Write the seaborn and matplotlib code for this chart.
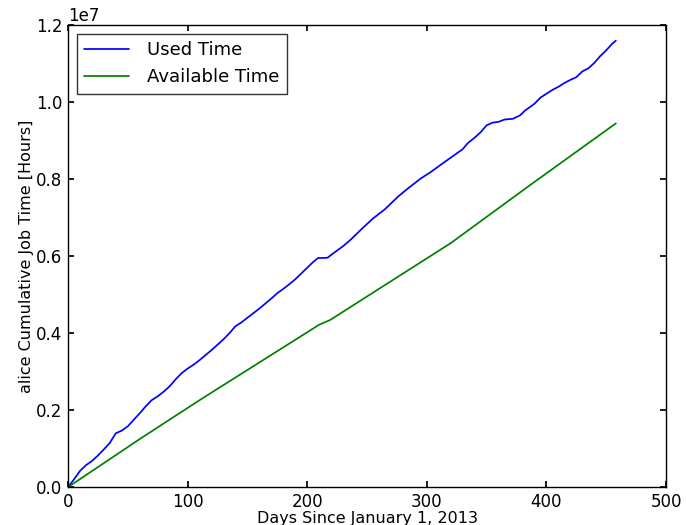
import pandas as pd
import matplotlib
matplotlib.use('Agg')
import matplotlib.pyplot as plt
import seaborn as sns

# cumulative used job time (hours)
used_days = [0, 5, 10, 15, 20, 25, 30, 35, 40, 45, 50, 55, 60, 65, 70, 75, 80, 85, 90, 95,
             100, 105, 110, 115, 120, 125, 130, 135, 140, 145, 150, 155, 160, 165, 170, 175,
             180, 185, 190, 195, 200, 205, 209, 217, 222, 230, 236, 247, 255, 265, 276, 285,
             295, 303, 315, 325, 330, 334, 340, 345, 350, 355, 360, 365, 372, 378, 382, 386,
             390, 395, 400, 405, 410, 415, 420, 425, 430, 435, 440, 445, 450, 455, 458]
used_hours = [0, 0.2, 0.42, 0.57, 0.68, 0.82, 0.98, 1.15, 1.40, 1.47, 1.58, 1.75, 1.92, 2.10,
              2.26, 2.36, 2.48, 2.62, 2.80, 2.96, 3.08, 3.18, 3.30, 3.43, 3.56, 3.70, 3.84,
              4.00, 4.18, 4.28, 4.40, 4.52, 4.64, 4.77, 4.90, 5.04, 5.15, 5.27, 5.40, 5.55,
              5.70, 5.85, 5.95, 5.96, 6.08, 6.26, 6.42, 6.75, 6.98, 7.22, 7.55, 7.78, 8.02,
              8.18, 8.45, 8.67, 8.78, 8.93, 9.08, 9.22, 9.40, 9.47, 9.49, 9.55, 9.57, 9.66,
              9.78, 9.87, 9.96, 10.12, 10.22, 10.32, 10.40, 10.50, 10.58, 10.65, 10.80, 10.88,
              11.02, 11.20, 11.35, 11.52, 11.60]

# cumulative available time (hours)
avail_days = [0, 60, 110, 210, 219, 320, 386, 458]
avail_hours = [0, 1.25, 2.26, 4.22, 4.34, 6.34, 7.84, 9.45]

series_names = ['Used Time', 'Available Time']

df = pd.concat([
    pd.DataFrame({'day': used_days, 'hours': [v * 1e6 for v in used_hours], 'series': series_names[0]}),
    pd.DataFrame({'day': avail_days, 'hours': [v * 1e6 for v in avail_hours], 'series': series_names[1]}),
])

sns.set_theme(style='white', rc={
    'xtick.direction': 'in', 'ytick.direction': 'in',
    'xtick.top': True, 'ytick.right': True,
    'xtick.bottom': True, 'ytick.left': True,
    'xtick.major.size': 4, 'ytick.major.size': 4,
    'axes.edgecolor': 'black', 'axes.linewidth': 1.0,
    'text.color': 'black', 'axes.labelcolor': 'black',
    'xtick.color': 'black', 'ytick.color': 'black',
})
plt.rcParams['font.family'] = ['DejaVu Sans']

fig = plt.figure(figsize=(6.86, 5.25), dpi=100)
ax = fig.add_axes([0.099, 0.072, 0.872, 0.88])

sns.lineplot(data=df, x='day', y='hours', hue='series', hue_order=series_names,
             palette=['#0000ff', '#008000'], linewidth=1.25, ax=ax, sort=False)

ax.set_xlim(0, 500)
ax.set_ylim(0, 1.2e7)
ax.set_xticks([0, 100, 200, 300, 400, 500])
ax.set_yticks([0, 0.2e7, 0.4e7, 0.6e7, 0.8e7, 1.0e7, 1.2e7])
ax.ticklabel_format(axis='y', style='sci', scilimits=(0, 0))
ax.tick_params(labelsize=12, pad=4)
ax.yaxis.get_offset_text().set_fontsize(12)
ax.set_xlabel('Days Since January 1, 2013', fontsize=11.5, labelpad=0)
ax.set_ylabel('alice Cumulative Job Time [Hours]', fontsize=11.5, labelpad=1)

leg = ax.legend(loc='upper left', fontsize=13, frameon=True, fancybox=False,
                edgecolor='black', borderaxespad=0.5, handlelength=2.5, handletextpad=1.0)
leg.get_frame().set_linewidth(1.0)

fig.savefig('out.png', dpi=100)
